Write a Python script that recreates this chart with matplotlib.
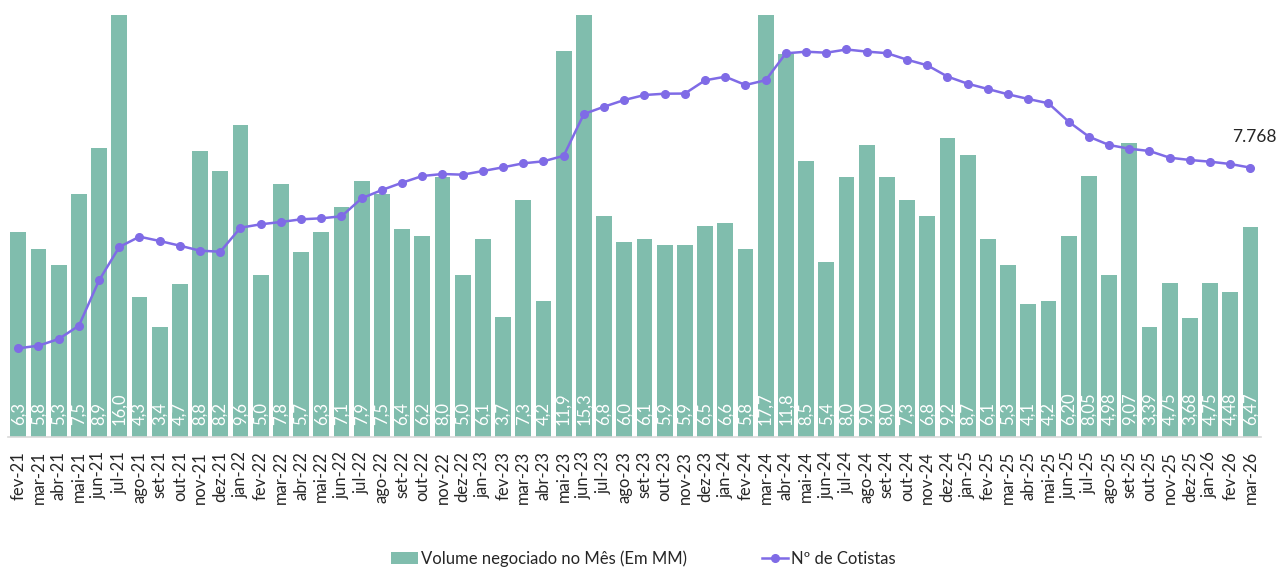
import matplotlib.pyplot as plt

plt.rcParams['font.family'] = ['Lato', 'DejaVu Sans']

# meses
meses = [
    'fev-21', 'mar-21', 'abr-21', 'mai-21', 'jun-21', 'jul-21', 'ago-21', 'set-21', 'out-21', 'nov-21', 'dez-21',
    'jan-22', 'fev-22', 'mar-22', 'abr-22', 'mai-22', 'jun-22', 'jul-22', 'ago-22', 'set-22', 'out-22', 'nov-22', 'dez-22',
    'jan-23', 'fev-23', 'mar-23', 'abr-23', 'mai-23', 'jun-23', 'jul-23', 'ago-23', 'set-23', 'out-23', 'nov-23', 'dez-23',
    'jan-24', 'fev-24', 'mar-24', 'abr-24', 'mai-24', 'jun-24', 'jul-24', 'ago-24', 'set-24', 'out-24', 'nov-24', 'dez-24',
    'jan-25', 'fev-25', 'mar-25', 'abr-25', 'mai-25', 'jun-25', 'jul-25', 'ago-25', 'set-25', 'out-25', 'nov-25', 'dez-25',
    'jan-26', 'fev-26', 'mar-26',
]

# Volume negociado no mês (em MM)
volume = [
    6.3, 5.8, 5.3, 7.5, 8.9, 16.0, 4.3, 3.4, 4.7, 8.8, 8.2,
    9.6, 5.0, 7.8, 5.7, 6.3, 7.1, 7.9, 7.5, 6.4, 6.2, 8.0, 5.0,
    6.1, 3.7, 7.3, 4.2, 11.9, 15.3, 6.8, 6.0, 6.1, 5.9, 5.9, 6.5,
    6.6, 5.8, 17.7, 11.8, 8.5, 5.4, 8.0, 9.0, 8.0, 7.3, 6.8, 9.2,
    8.7, 6.1, 5.3, 4.1, 4.2, 6.20, 8.05, 4.98, 9.07, 3.39, 4.75, 3.68,
    4.75, 4.48, 6.47,
]
# casas decimais mostradas no rótulo
casas = [1] * 52 + [2] * 10

# Nº de cotistas (estimado a partir da figura)
cotistas = [
    2558, 2633, 2826, 3210, 4519, 5480, 5777, 5653, 5517, 5373, 5344,
    6036, 6134, 6201, 6278, 6307, 6365, 6884, 7123, 7334, 7527, 7585, 7565,
    7671, 7778, 7893, 7951, 8110, 9315, 9526, 9719, 9863, 9901, 9905, 10287,
    10391, 10152, 10290, 11066, 11112, 11083, 11176, 11115, 11070, 10881, 10720, 10395,
    10189, 10036, 9883, 9748, 9624, 9093, 8661, 8421, 8315, 8248, 8055, 7989,
    7940, 7873, 7768,
]

cor_barra = '#80BDAD'
cor_linha = '#7F6BE6'

fig = plt.figure(figsize=(12.79, 5.67), dpi=100)
ax = fig.add_axes([0.0064, 0.2293, 0.9792, 0.7442])
x = list(range(len(meses)))

barras = ax.bar(x, volume, width=0.78, color=cor_barra, label='Volume negociado no Mês (Em MM)')
ax.set_ylim(0, 13)
ax.set_xlim(-0.5, len(meses) - 0.5)

for xi, v, c in zip(x, volume, casas):
    txt = f'{v:.{c}f}'.replace('.', ',')
    ax.annotate(txt, (xi, 0), xytext=(0, 12), textcoords='offset pixels',
                rotation=90, ha='center', va='bottom', color='white', fontsize=12)

ax.set_xticks(x)
ax.set_xticklabels(meses, rotation=90, fontsize=12, color='#262626')
ax.tick_params(axis='x', length=0, pad=10)
ax.set_yticks([])
for s in ['top', 'right', 'left']:
    ax.spines[s].set_visible(False)
ax.spines['bottom'].set_color('#D9D9D9')
ax.spines['bottom'].set_linewidth(1.2)

ax2 = ax.twinx()
linha, = ax2.plot(x, cotistas, color=cor_linha, lw=1.8, marker='o', markersize=5.5, label='Nº de Cotistas')
ax2.set_ylim(0, 12170)
ax2.set_yticks([])
for s in ax2.spines.values():
    s.set_visible(False)

ultimo = cotistas[-1]
ax2.annotate(f'{ultimo:,}'.replace(',', '.'), (x[-1], ultimo), xytext=(4, 31), textcoords='offset pixels',
             ha='center', va='center', fontsize=12.5, color='#262626')

fig.legend(handles=[barras, linha], loc='center', bbox_to_anchor=(0.503, 0.015), ncol=2, frameon=False,
           fontsize=12, handlelength=1.6, handletextpad=0.15, columnspacing=4.5, labelcolor='#262626')

fig.savefig('out.png', dpi=100)
